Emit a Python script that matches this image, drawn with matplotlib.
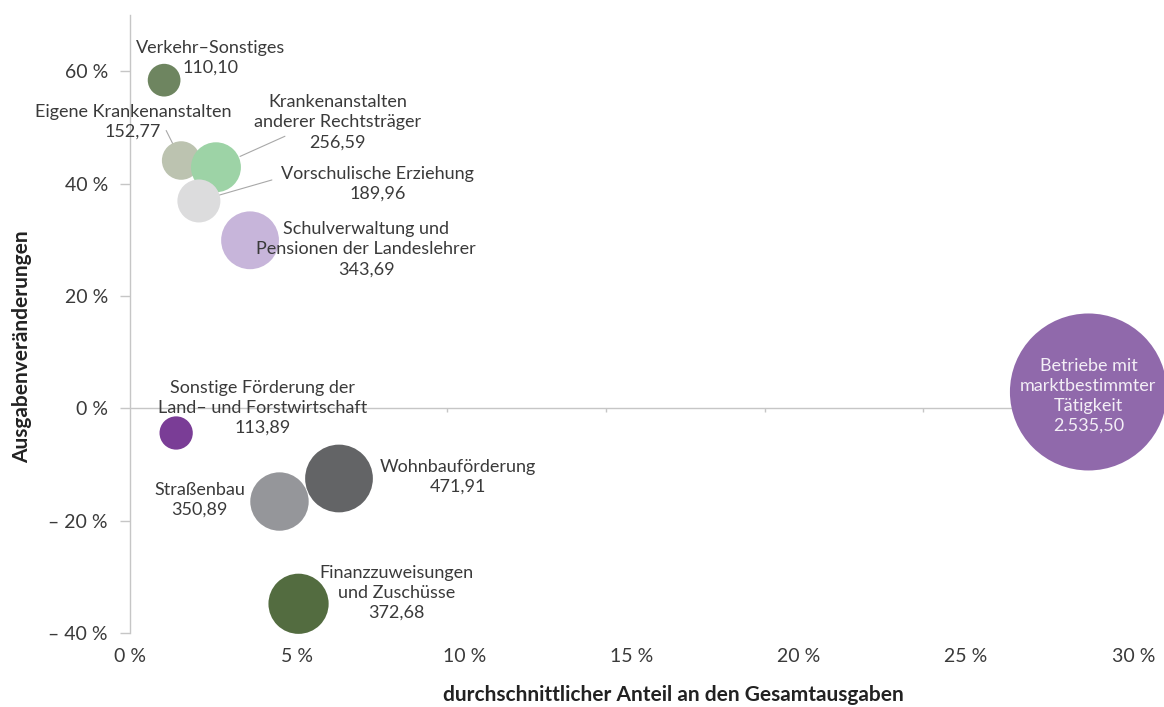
import matplotlib
matplotlib.use("Agg")
import matplotlib.pyplot as plt

plt.rcParams["font.family"] = ["Lato", "DejaVu Sans"]

# Ausgabenbereiche: Anteil an den Gesamtausgaben [%], Veränderung [%], Volumen (Bubble-Fläche)
names = [
    "Verkehr–Sonstiges",
    "Eigene Krankenanstalten",
    "Krankenanstalten\nanderer Rechtsträger",
    "Vorschulische Erziehung",
    "Schulverwaltung und\nPensionen der Landeslehrer",
    "Betriebe mit\nmarktbestimmter\nTätigkeit",
    "Sonstige Förderung der\nLand– und Forstwirtschaft",
    "Wohnbauförderung",
    "Straßenbau",
    "Finanzzuweisungen\nund Zuschüsse",
]
share = [1.02, 1.53, 2.57, 2.06, 3.59, 28.66, 1.38, 6.25, 4.47, 5.04]
change = [58.4, 44.1, 42.9, 36.9, 29.9, 2.9, -4.4, -12.5, -16.6, -34.8]
volume = [110.10, 152.77, 256.59, 189.96, 343.69, 2535.50, 113.89, 471.91, 350.89, 372.68]
colors = ["#6e8560", "#bcc3b0", "#9dd3a6", "#dcdcdd", "#c7b5da",
          "#9069ab", "#7a3d96", "#636466", "#95969a", "#536c40"]

# label offsets in pixels from the bubble centre
label_off = [(46, 22), (-48, 39), (122, 45), (179, 17), (116, -9),
             (0, -4), (86, 25), (119, 2), (-80, 2), (98, 11)]
# leader lines: (start offset px, shrink at bubble end in pt)
leaders = {1: ((-15, 30), 9.7), 2: ((69, 31), 19.0), 3: ((73, 21), 9.4)}

xticks = [0, 5, 10, 15, 20, 25, 30]
yticks = [-40, -20, 0, 20, 40, 60]

TXT = "#3a3a3a"
AXC = "#c6c6c6"


def fmt_num(v):
    s = f"{v:,.2f}"
    return s.replace(",", "X").replace(".", ",").replace("X", ".")


def fmt_pct(v):
    return f"{v} %" if v >= 0 else f"– {abs(v)} %"


fig = plt.figure(figsize=(11.64, 7.07), dpi=100)
ax = fig.add_axes([130 / 1164, 74 / 707, 1 - 130 / 1164, (633 - 15) / 707])
ax.set_xlim(0, 30.92)
ax.set_ylim(-40, 70)

for sp in ["top", "right", "bottom"]:
    ax.spines[sp].set_visible(False)
ax.spines["left"].set_color(AXC)
ax.spines["left"].set_linewidth(1.0)

ax.axhline(0, color=AXC, lw=1.0, zorder=1)
# small tick marks hanging off the zero line
ax.vlines([4.745 * k for k in range(1, 7)], -0.6, 0, color=AXC, lw=1.0, zorder=1)

ax.scatter(share, change, s=[v * 5.04 for v in volume], c=colors,
           linewidths=0, zorder=3, clip_on=False)

for i, (x, y) in enumerate(zip(share, change)):
    txt = f"{names[i]}\n{fmt_num(volume[i])}"
    inside = i == 5
    ax.annotate(txt, (x, y), xytext=label_off[i], textcoords="offset pixels",
                ha="center", va="center", fontsize=13, linespacing=1.3,
                color="#f3eef6" if inside else TXT, zorder=4)
    if i in leaders:
        (lx, ly), shr = leaders[i]
        ax.annotate("", (x, y), xytext=(lx, ly), textcoords="offset pixels",
                    arrowprops=dict(arrowstyle="-", color="#a8a8a8", lw=0.8,
                                    shrinkA=0, shrinkB=shr), zorder=2)

ax.set_xticks(xticks)
ax.set_xticklabels([f"{v} %" for v in xticks])
ax.set_yticks(yticks)
ax.set_yticklabels([fmt_pct(v) for v in yticks])
ax.tick_params(axis="x", length=0, pad=11, labelsize=14, labelcolor=TXT)
ax.tick_params(axis="y", length=7, width=1.0, color=AXC, pad=9,
               labelsize=14, labelcolor=TXT)

fig.text(673 / 1164, 1 - 695 / 707, "durchschnittlicher Anteil an den Gesamtausgaben",
         ha="center", va="center", fontsize=15, fontweight="bold", color="#222222")
fig.text(22 / 1164, 1 - 347 / 707, "Ausgabenveränderungen", rotation=90,
         ha="center", va="center", fontsize=15, fontweight="bold", color="#222222")

fig.savefig("out.png", dpi=100)
